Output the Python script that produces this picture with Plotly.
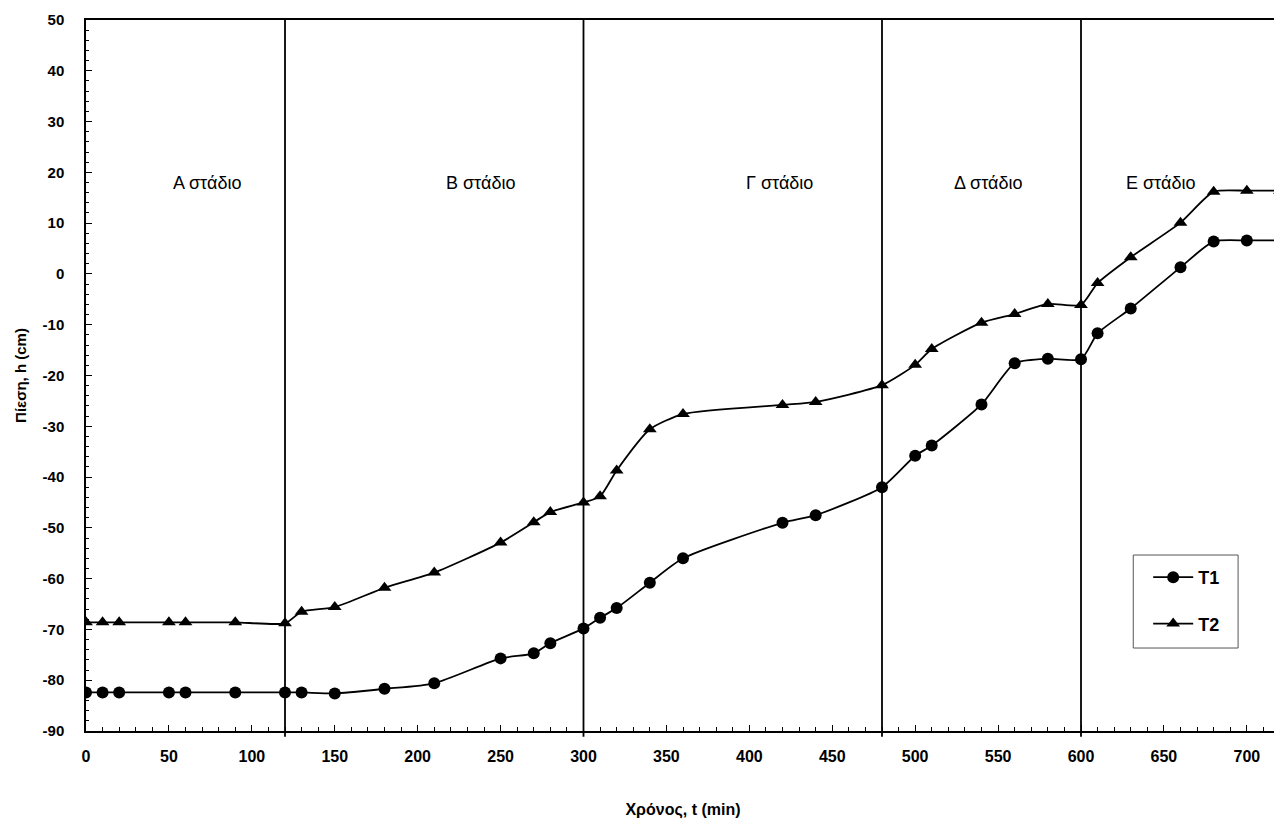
import plotly.graph_objects as go

t = [0, 10, 20, 50, 60, 90, 120, 130, 150, 180, 210, 250, 270, 280, 300, 310, 320,
     340, 360, 420, 440, 480, 500, 510, 540, 560, 580, 600, 610, 630, 660, 680, 700, 720]
T1 = [-82.4, -82.4, -82.4, -82.4, -82.4, -82.4, -82.4, -82.4, -82.6, -81.7, -80.6,
      -75.7, -74.7, -72.7, -69.8, -67.7, -65.8, -60.8, -56.0, -49.0, -47.5, -42.0,
      -35.8, -33.8, -25.7, -17.6, -16.7, -16.8, -11.7, -6.8, 1.3, 6.4, 6.6, 6.6]
T2 = [-68.6, -68.6, -68.6, -68.6, -68.6, -68.6, -68.8, -66.5, -65.6, -61.8, -58.8,
      -52.9, -48.9, -46.9, -45.0, -43.8, -38.7, -30.6, -27.6, -25.8, -25.2, -21.9,
      -17.9, -14.8, -9.6, -7.9, -5.9, -6.1, -1.8, 3.3, 10.1, 16.2, 16.4, 16.4]

y_tick_vals = [50, 40, 30, 20, 10, 0, -10, -20, -30, -40, -50, -60, -70, -80, -90]
y_tick_text = ["50", "40", "30", "20", "10", "0", "-10", "-20", "-30", "-40",
               "-50", "-60", "-70", "-80", "-90"]

stage_bounds = [120, 300, 480, 600]
stage_labels = ["Α στάδιο", "Β στάδιο", "Γ στάδιο", "Δ στάδιο", "Ε στάδιο"]
stage_label_t = [73, 238, 418, 544, 648]
stage_label_y = 18

fig = go.Figure()
fig.add_trace(go.Scatter(
    x=t, y=T1, name="T1", mode="lines+markers", legendgroup="a",
    line=dict(color="black", width=1.8, shape="spline", smoothing=0.6),
    marker=dict(symbol="circle", size=12, color="black"),
))
fig.add_trace(go.Scatter(
    x=t, y=T2, name="T2", mode="lines+markers", legendgroup="b",
    line=dict(color="black", width=1.8, shape="spline", smoothing=0.6),
    marker=dict(symbol="triangle-up", size=12, color="black"),
))

for b in stage_bounds:
    fig.add_shape(type="line", xref="x", yref="paper", x0=b, x1=b, y0=-0.008, y1=1,
                  line=dict(color="black", width=1.8), layer="below")

# legend frame
fig.add_shape(type="rect", xref="paper", yref="paper", x0=0.8771, x1=0.9649,
              y0=0.1167, y1=0.2475, line=dict(color="#555555", width=1),
              fillcolor="white", layer="above")

for lab, lt in zip(stage_labels, stage_label_t):
    fig.add_annotation(x=lt, y=stage_label_y, xref="x", yref="y", text=lab,
                       showarrow=False,
                       font=dict(family="Liberation Sans, Arial", size=18, color="black"))

fig.update_layout(
    width=1274, height=813,
    margin=dict(l=78, r=0, t=12, b=90),
    paper_bgcolor="white", plot_bgcolor="white",
    showlegend=True,
    legend=dict(x=0.8896, y=0.2419, xanchor="left", yanchor="top",
                borderwidth=0, bgcolor="rgba(0,0,0,0)",
                font=dict(family="Liberation Sans, Arial", size=18, color="black", weight="bold"),
                tracegroupgap=20, itemwidth=40, traceorder="grouped"),
    xaxis=dict(
        range=[0, 720], tickmode="linear", tick0=0, dtick=50,
        showgrid=False, zeroline=False,
        showline=True, linecolor="black", linewidth=1.5, mirror=True,
        ticks="inside", ticklen=6, tickcolor="black",
        minor=dict(dtick=10, ticks="inside", ticklen=4, tickcolor="black"),
        tickfont=dict(family="Liberation Sans Narrow, Liberation Sans, Arial", size=16,
                      color="black", weight="bold"),
        ticklabelstandoff=10,
        title=dict(text="Χρόνος, t (min)", standoff=40,
                   font=dict(family="Liberation Sans Narrow, Liberation Sans, Arial", size=16,
                             color="black", weight="bold")),
    ),
    yaxis=dict(
        range=[-90, 50], tickmode="array", tickvals=y_tick_vals, ticktext=y_tick_text,
        showgrid=False, zeroline=False,
        showline=True, linecolor="black", linewidth=1.5, mirror=True,
        ticks="inside", ticklen=6, tickcolor="black",
        minor=dict(dtick=2, tick0=0, ticks="inside", ticklen=3, tickcolor="black"),
        tickfont=dict(family="Liberation Sans, Arial", size=15, color="black", weight="bold"),
        ticklabelstandoff=17,
        title=dict(text="Πίεση, h (cm)", standoff=12,
                   font=dict(family="Liberation Sans, Arial", size=15, color="black", weight="bold")),
    ),
)

fig.write_html("out.html")
